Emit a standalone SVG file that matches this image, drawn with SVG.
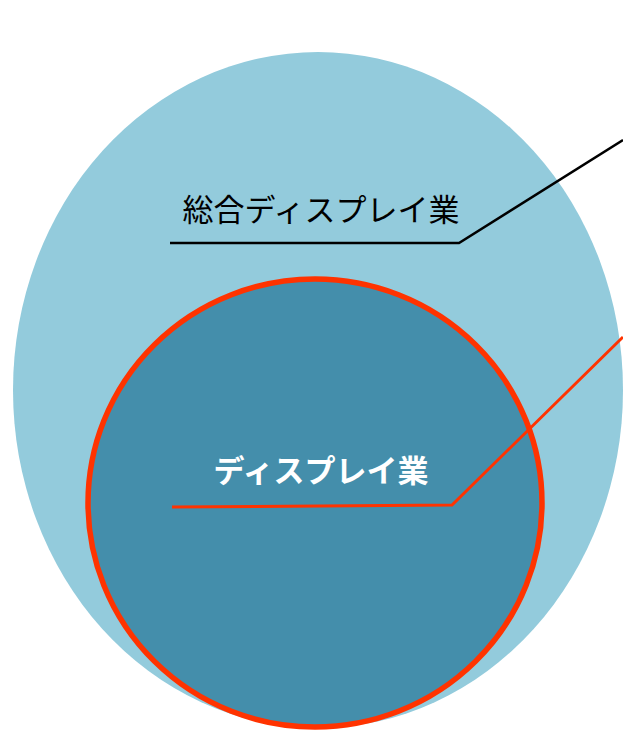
<svg xmlns="http://www.w3.org/2000/svg" width="623" height="730" viewBox="0 0 623 730">
<style>
.lbl{font-family:"Noto Sans CJK JP","Noto Sans CJK SC",sans-serif;font-size:31px;text-anchor:middle}
.conn{fill:none;stroke-linejoin:miter}
</style>
<rect width="623" height="730" fill="#ffffff"/>
<g id="outer">
<ellipse cx="318" cy="390" rx="305" ry="338" fill="#93CBDC"/>
<text class="lbl" x="321" y="221" fill="#000000">総合ディスプレイ業</text>
</g>
<g id="inner">
<ellipse cx="315" cy="503" rx="227" ry="224" fill="#448EAB" stroke="#FF3300" stroke-width="5.5"/>
<text class="lbl" x="321" y="482" fill="#ffffff" font-weight="bold">ディスプレイ業</text>
</g>
<g id="connectors">
<polyline class="conn" points="170,243 459,243 623,140" stroke="#000000" stroke-width="2.5"/>
<polyline class="conn" points="172,507 452,505 623,337" stroke="#FF3300" stroke-width="3"/>
</g>
</svg>
